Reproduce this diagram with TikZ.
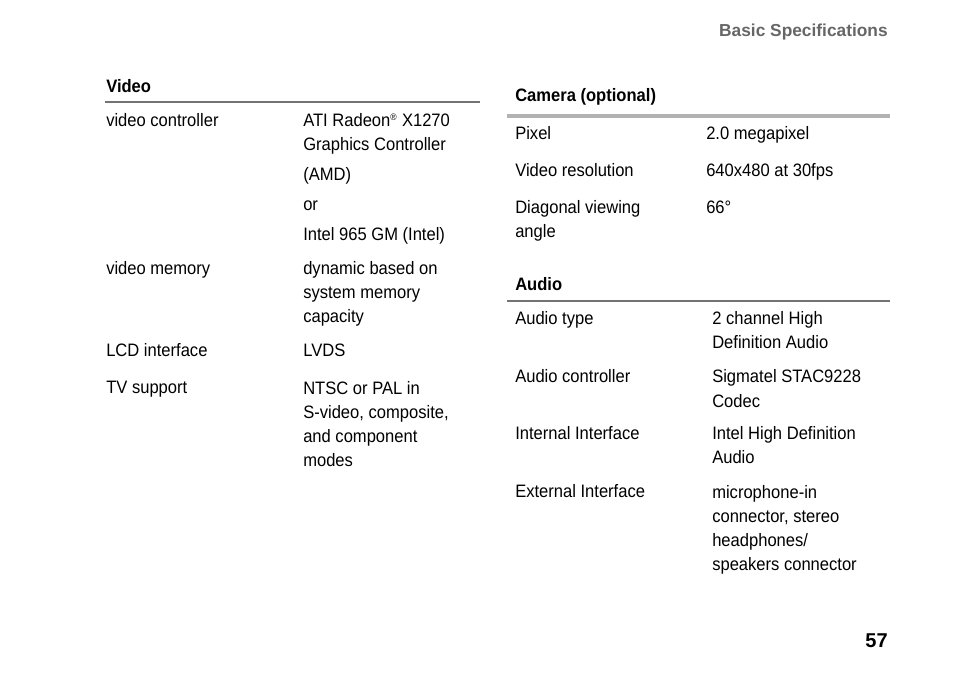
\documentclass[tikz,border=0pt]{standalone}
\usepackage{fontspec}
\setmainfont[FakeStretch=0.92]{Liberation Sans}
\begin{document}
\begin{tikzpicture}[x=0.75pt, y=-0.75pt,
  cell/.style={anchor=base west, inner sep=0pt, align=left, font=\fontsize{13.5}{18}\selectfont},
  head/.style={cell, font=\fontsize{13.5}{18}\selectfont\bfseries}]
  \useasboundingbox (0,0) rectangle (954,677);
  % Kopfzeile (mehrzeilige Zellen: Koordinate = Grundlinie der letzten Zeile)
  \node[anchor=base east, inner sep=0pt, text=black!60, font=\fontsize{13}{16}\selectfont\bfseries] (title) at (888,37) {\addfontfeature{FakeStretch=1.0}Basic Specifications};
  \node[anchor=base east, inner sep=0pt, font=\fontsize{15}{18}\selectfont\bfseries] (page) at (888,647) {\addfontfeature{FakeStretch=1.0}57};

  % Video
  \node[head] (vid) at (106,93) {Video};
  \draw[black!55, line width=1.2pt] (105,102) -- (480,102);
  \node[cell] (vc) at (106,127) {video controller};
  \node[cell] (vcv) at (303,151) {ATI Radeon\textsuperscript{\scriptsize\textregistered} X1270\\Graphics Controller};
  \node[cell] (amd) at (303,181) {(AMD)};
  \node[cell] (or) at (303,211) {or};
  \node[cell] (intel) at (303,241) {Intel 965 GM (Intel)};
  \node[cell] (vm) at (106,275) {video memory};
  \node[cell] (vmv) at (303,323) {dynamic based on\\system memory\\capacity};
  \node[cell] (lcd) at (106,357) {LCD interface};
  \node[cell] (lcdv) at (303,357) {LVDS};
  \node[cell] (tv) at (106,394) {TV support};
  \node[cell] (tvv) at (303,466) {NTSC or PAL in\\S-video, composite,\\and component\\modes};

  % Kamera
  \node[head] (cam) at (515,102) {Camera (optional)};
  \draw[black!30, line width=2.4pt] (507,116) -- (890,116);
  \node[cell] (px) at (515,140) {Pixel};
  \node[cell] (pxv) at (706,140) {2.0 megapixel};
  \node[cell] (res) at (515,177) {Video resolution};
  \node[cell] (resv) at (706,177) {640x480 at 30fps};
  \node[cell] (dia) at (515,238) {Diagonal viewing\\angle};
  \node[cell] (diav) at (706,214) {66°};

  % Audio
  \node[head] (aud) at (515,291) {Audio};
  \draw[black!55, line width=1.2pt] (507,301) -- (890,301);
  \node[cell] (at) at (515,325) {Audio type};
  \node[cell] (atv) at (712,349) {2 channel High\\Definition Audio};
  \node[cell] (ac) at (515,383) {Audio controller};
  \node[cell] (acv) at (712,407) {Sigmatel STAC9228\\Codec};
  \node[cell] (ii) at (515,440) {Internal Interface};
  \node[cell] (iiv) at (712,464) {Intel High Definition\\Audio};
  \node[cell] (ei) at (515,498) {External Interface};
  \node[cell] (eiv) at (712,570) {microphone-in\\connector, stereo\\headphones/\\speakers connector};
\end{tikzpicture}
\end{document}
